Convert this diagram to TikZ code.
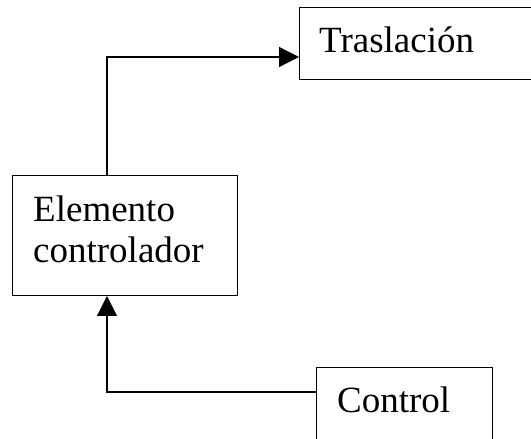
\documentclass[tikz,border=0pt]{standalone}
\usepackage{fontspec}
\setmainfont{Liberation Serif}
\usetikzlibrary{arrows.meta}
\begin{document}
\begin{tikzpicture}[x=1pt,y=1pt,
  boxnode/.style={draw, line width=1.2pt, inner sep=0pt, anchor=south west},
  lbl/.style={anchor=base west, inner sep=0pt, font=\fontsize{37}{41}\selectfont},
  conn/.style={line width=1.2pt, -{Triangle[length=20pt,width=20pt]}}]
\useasboundingbox (0,0) rectangle (531,439);
\clip (0,0) rectangle (531,439);
\node[boxnode, minimum width=225pt, minimum height=120pt] (elem) at (12,143) {};
\node[boxnode, minimum width=261pt, minimum height=72pt] (tras) at (299,359) {};
\node[boxnode, minimum width=176pt, minimum height=91pt] (ctrl) at (316,-20) {};
\node[lbl] (t1) at (319,386) {Traslación};
\node[lbl] (t2) at (33,217) {Elemento};
\node[lbl] (t3) at (33,176) {controlador};
\node[lbl] (t4) at (337,26) {Control};
\coordinate (k1) at (107,382);
\coordinate (k2) at (107,47);
\draw[conn] (elem.north -| k1) |- (tras.west |- k1);
\draw[conn] (ctrl.west |- k2) -| (elem.south -| k2);
\end{tikzpicture}
\end{document}
